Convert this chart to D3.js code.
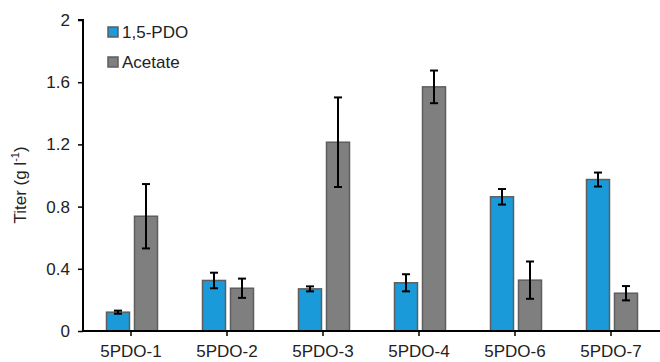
<!DOCTYPE html>
<html>
<head>
  <script src="https://d3js.org/d3.v7.min.js"></script>
  <style>
    body { margin: 0; background: #fff; }
    svg { font-family: "Liberation Sans", Arial, sans-serif; }
    .axis text { font-size: 17px; fill: #222; }
  </style>
</head>
<body>
  <div id="chart"></div>
  <script>
    var width = 660, height = 362;
    var margin = {top: 20, left: 83, right: 1, bottom: 31};

    // data
    var strains = ["5PDO-1", "5PDO-2", "5PDO-3", "5PDO-4", "5PDO-6", "5PDO-7"];
    var pdo = [0.121, 0.325, 0.271, 0.31, 0.863, 0.974];
    var pdoErr = [0.01, 0.05, 0.016, 0.055, 0.05, 0.045];
    var acetate = [0.738, 0.275, 1.214, 1.57, 0.327, 0.243];
    var acetateErr = [0.207, 0.062, 0.288, 0.105, 0.12, 0.046];
    var yTicks = [0, 0.4, 0.8, 1.2, 1.6, 2];

    var series = [
      {name: "1,5-PDO", values: pdo, err: pdoErr, color: "#1a9ad8", offset: -24.5},
      {name: "Acetate", values: acetate, err: acetateErr, color: "#7f7f7f", offset: 3.5}
    ];

    var svg = d3.select("#chart").append("svg")
      .attr("width", width).attr("height", height);

    var x = d3.scaleBand()
      .domain(strains)
      .range([margin.left, width - margin.right]);

    var y = d3.scaleLinear()
      .domain([0, 2])
      .range([height - margin.bottom, margin.top]);

    var barW = 23;

    // bars
    series.forEach(function(s) {
      var g = svg.append("g");
      g.selectAll("rect")
        .data(strains)
        .enter().append("rect")
          .attr("x", function(d) { return x(d) + x.bandwidth() / 2 + s.offset; })
          .attr("y", function(d, i) { return y(s.values[i]); })
          .attr("width", barW)
          .attr("height", function(d, i) { return y(0) - y(s.values[i]); })
          .attr("fill", s.color)
          .attr("stroke", "#5e5e5e")
          .attr("stroke-width", 1.5);

      // error bars
      var eb = g.selectAll("g.err")
        .data(strains)
        .enter().append("g")
          .attr("class", "err")
          .attr("stroke", "#000")
          .attr("stroke-width", 2);
      eb.each(function(d, i) {
        var cx = x(d) + x.bandwidth() / 2 + s.offset + barW / 2;
        var hi = y(s.values[i] + s.err[i]), lo = y(s.values[i] - s.err[i]);
        var e = d3.select(this);
        e.append("line").attr("x1", cx).attr("x2", cx).attr("y1", hi).attr("y2", lo);
        e.append("line").attr("x1", cx - 4).attr("x2", cx + 4).attr("y1", hi).attr("y2", hi);
        e.append("line").attr("x1", cx - 4).attr("x2", cx + 4).attr("y1", lo).attr("y2", lo);
      });
    });

    // axes
    var yAxis = svg.append("g")
      .attr("class", "axis")
      .attr("transform", `translate(${margin.left},0)`)
      .call(d3.axisLeft(y).tickValues(yTicks).tickFormat(d3.format("")).tickSize(5).tickPadding(8));
    yAxis.select(".domain").attr("stroke-width", 2).attr("d", `M-5,${y(2)}H0V${y(0)}`);
    yAxis.selectAll(".tick line").attr("stroke-width", 1.5);

    var xAxis = svg.append("g")
      .attr("class", "axis")
      .attr("transform", `translate(0,${y(0)})`)
      .call(d3.axisBottom(x).tickSize(5));
    xAxis.select(".domain").attr("stroke-width", 2).attr("d", `M${margin.left},0H${width}`);
    xAxis.selectAll(".tick line").attr("stroke-width", 1.5);
    xAxis.selectAll("text")
      .attr("y", 26)
      .attr("dy", 0)
      .style("font-size", "17px");

    // axis title
    svg.append("text")
      .attr("transform", "rotate(-90)")
      .attr("x", -185)
      .attr("y", 26)
      .attr("text-anchor", "middle")
      .style("font-size", "17px")
      .attr("fill", "#222")
      .html('Titer (g l<tspan dy="-7" font-size="11">-1</tspan><tspan dy="7">)</tspan>');

    // legend
    var legend = svg.append("g");
    series.forEach(function(s, i) {
      var ly = 32 + i * 30;
      legend.append("rect")
        .attr("x", 108).attr("y", ly - 5)
        .attr("width", 10).attr("height", 10)
        .attr("fill", s.color)
        .attr("stroke", "#5e5e5e").attr("stroke-width", 1.5);
      legend.append("text")
        .attr("x", 122).attr("y", ly)
        .attr("dy", "0.36em")
        .style("font-size", "17px")
        .attr("fill", "#222")
        .text(s.name);
    });
  </script>
</body>
</html>
